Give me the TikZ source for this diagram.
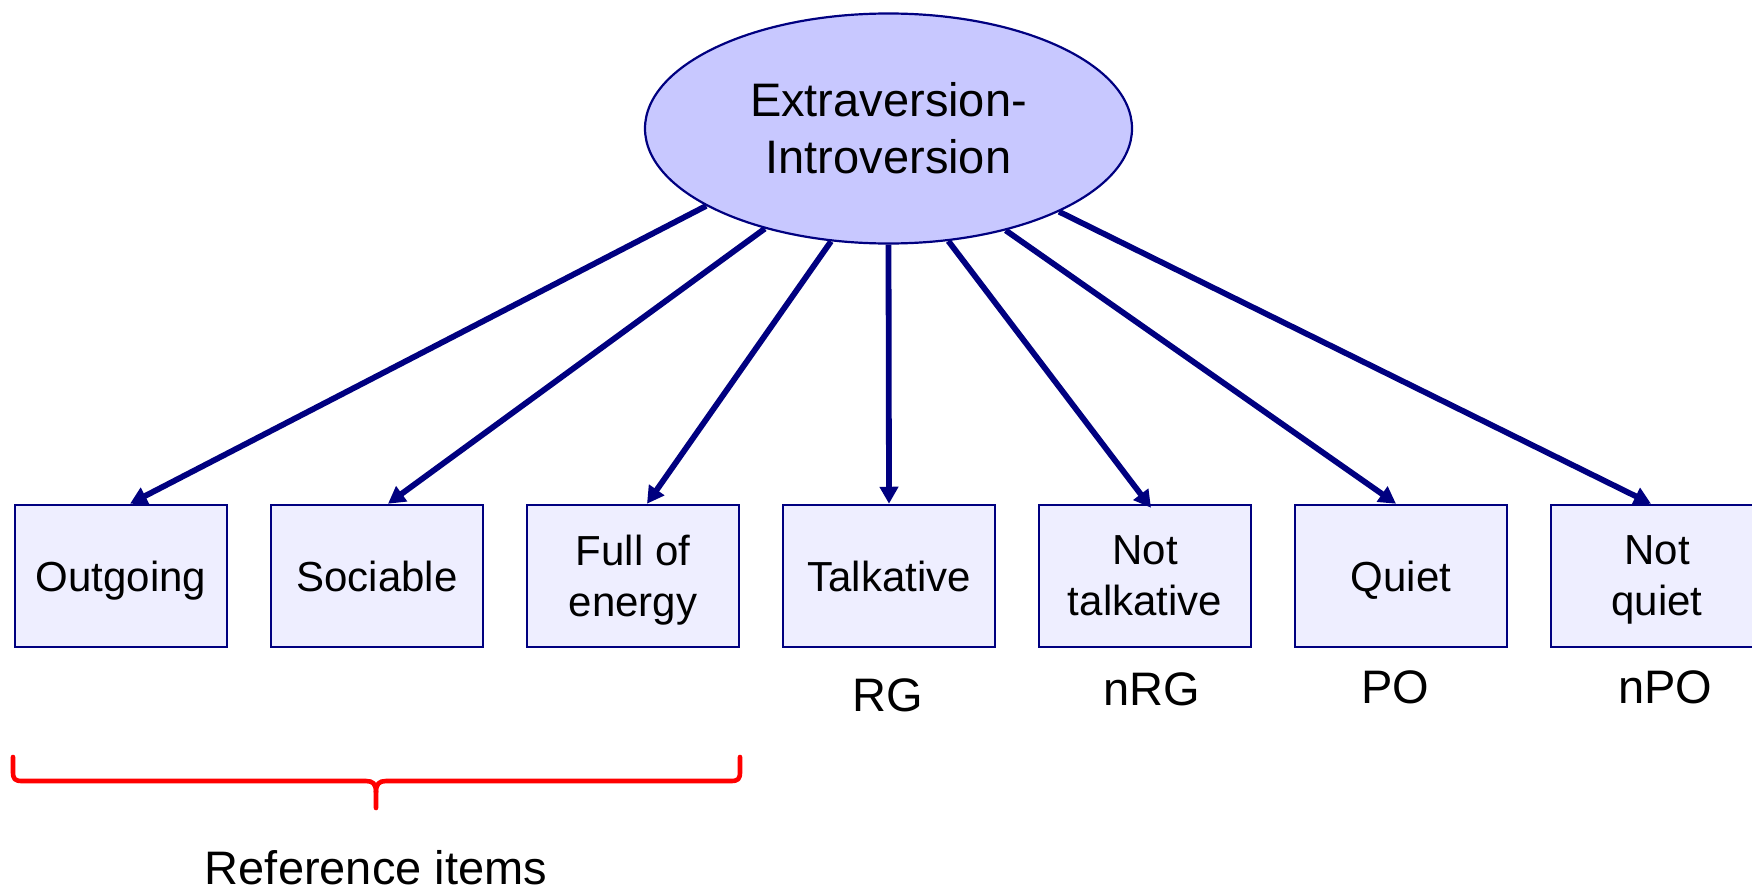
\documentclass[tikz,border=0pt]{standalone}
\usepackage{fontspec}
\setmainfont{Liberation Sans}
\usetikzlibrary{shapes.geometric,arrows.meta}
\definecolor{navy}{RGB}{0,0,128}
\definecolor{ellfill}{RGB}{200,200,255}
\definecolor{boxfill}{RGB}{238,238,255}
\definecolor{bracered}{RGB}{255,0,0}
\tikzset{
  latent/.style={ellipse,draw=navy,line width=2.2pt,fill=ellfill,minimum width=487pt,minimum height=230pt,inner sep=0pt,align=center,font=\fontsize{47}{57}\selectfont},
  item/.style={rectangle,draw=navy,line width=2.5pt,fill=boxfill,minimum width=212pt,minimum height=142pt,inner sep=0pt,text depth=0pt,align=center,font=\fontsize{42}{51}\selectfont},
  lab/.style={anchor=base,inner sep=0pt,font=\fontsize{47}{56}\selectfont},
  load/.style={draw=navy,line width=5.8pt,-{Triangle[length=17pt,width=18pt]}},
  bracestyle/.style={draw=bracered,line width=4.6pt,line cap=round,line join=round}
}
\begin{document}
\begin{tikzpicture}[x=1pt,y=-1pt]
\clip (0,0) rectangle (1752,891);
\useasboundingbox (0,0) rectangle (1752,891);
\fill[white] (0,0) rectangle (1752,891);
\node[latent] (ei) at (888.5,128.5) {Extraversion-\\Introversion};
\node[item] (b1) at (121,576) {Outgoing};
\node[item] (b2) at (377,576) {Sociable};
\node[item] (b3) at (633,576) {Full of\\energy};
\node[item] (b4) at (889,576) {Talkative};
\node[item] (b5) at (1145,576) {Not\\talkative};
\node[item] (b6) at (1401,576) {Quiet};
\node[item] (b7) at (1657,576) {Not\\quiet};
\node[lab] (l4) at (888,711) {RG};
\node[lab] (l5) at (1152,705) {nRG};
\node[lab] (l6) at (1395,703) {PO};
\node[lab] (l7) at (1665,703) {nPO};
\node[lab] (ref) at (376,884) {Reference items};
\draw[load] (ei.203.7) -- ([xshift=9pt]b1.north);
\draw[load] (ei.219.6) -- ([xshift=11pt]b2.north);
\draw[load] (ei.243) -- ([xshift=14pt]b3.north);
\draw[load] (ei.270) -- (b4.north);
\draw[load] (ei.298.6) -- ([xshift=6pt,yshift=-4pt]b5.north);
\draw[load] (ei.319.4) -- ([xshift=-5pt]b6.north);
\draw[load] (ei.334.4) -- ([xshift=-6pt]b7.north);
\draw[bracestyle] (13,757) -- (13,772) .. controls (13,779) and (15,781) .. (22,781) -- (366,781) .. controls (373,781) and (376,784) .. (376,792) -- (376,808);
\draw[bracestyle] (376,792) .. controls (376,784) and (379,781) .. (386,781) -- (731,781) .. controls (738,781) and (740,779) .. (740,772) -- (740,757);
\end{tikzpicture}
\end{document}
